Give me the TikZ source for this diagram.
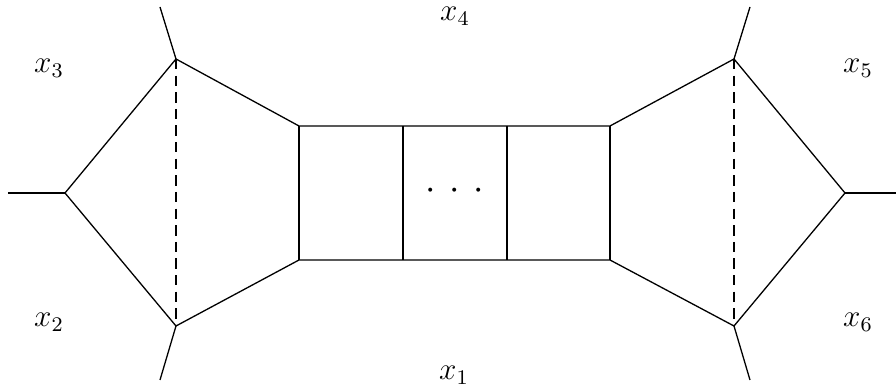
\documentclass[tikz,border=0pt]{standalone}
\begin{document}
\begin{tikzpicture}[x=0.385pt,y=-0.385pt,line width=0.5pt,
  lbl/.style={inner sep=0pt,font=\fontsize{11.5}{14}\selectfont},
  dsh/.style={dash pattern=on 4pt off 2.4pt, line width=0.5pt}]
\useasboundingbox (0,0) rectangle (896,392);
% vertices
\coordinate (L0) at (8,193);
\coordinate (A) at (65,193);
\coordinate (B) at (176,59);
\coordinate (Bt) at (160,7);
\coordinate (C) at (176,326);
\coordinate (Cb) at (160,380);
\coordinate (P1) at (299,126);
\coordinate (P2) at (299,260);
\coordinate (Q1) at (403,126);
\coordinate (Q2) at (403,260);
\coordinate (R1) at (507,126);
\coordinate (R2) at (507,260);
\coordinate (S1) at (610,126);
\coordinate (S2) at (610,260);
\coordinate (D) at (734,59);
\coordinate (Dt) at (750,7);
\coordinate (E) at (734,326);
\coordinate (Eb) at (750,380);
\coordinate (F) at (845,193);
\coordinate (Fr) at (896,193);
% lines
\draw (L0) -- (A);
\draw (A) -- (B) -- (P1) -- (S1) -- (D) -- (F) -- (E) -- (S2) -- (P2) -- (C) -- cycle;
\draw (B) -- (Bt);
\draw (C) -- (Cb);
\draw (D) -- (Dt);
\draw (E) -- (Eb);
\draw (F) -- (Fr);
\draw (P1) -- (P2);
\draw (Q1) -- (Q2);
\draw (R1) -- (R2);
\draw (S1) -- (S2);
\draw[dsh] (B) -- (C);
\draw[dsh] (D) -- (E);
% labels
\node[lbl] (x3) at (49,68) {$x_3$};
\node[lbl] (x2) at (49,322) {$x_2$};
\node[lbl] (x5) at (858,68) {$x_5$};
\node[lbl] (x6) at (858,322) {$x_6$};
\node[lbl] (x4) at (455,16) {$x_4$};
\node[lbl] (x1) at (454,375) {$x_1$};
\node[inner sep=0pt,font=\Large] (dots) at (455,191) {{$\cdot$}\hspace{5.2pt}{$\cdot$}\hspace{5.2pt}{$\cdot$}};
\end{tikzpicture}
\end{document}
